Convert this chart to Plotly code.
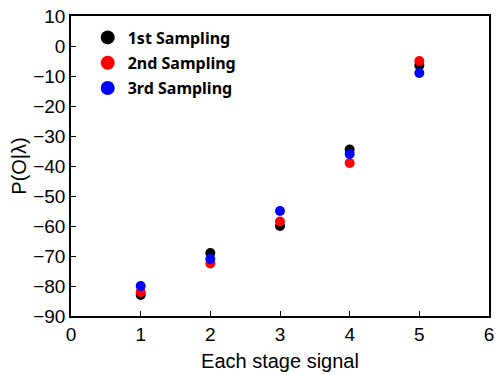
import plotly.graph_objects as go

stages = [1, 2, 3, 4, 5]
first = [-83, -69, -60, -34.5, -6.5]
second = [-82, -72.5, -58.5, -39, -5]
third = [-80, -71, -55, -36, -9]
names = ["1st Sampling", "2nd Sampling", "3rd Sampling"]
colors = ["#000000", "#ff0000", "#0000ff"]

fig = go.Figure()
for name, ys, c in zip(names, [first, second, third], colors):
    fig.add_trace(go.Scatter(x=stages, y=ys, mode="markers", name=name, showlegend=False,
                             marker=dict(color=c, size=10, line=dict(width=0))))
# legend-only entries (larger symbols as in the reference)
for i, (name, c) in enumerate(zip(names, colors)):
    fig.add_trace(go.Scatter(x=[None], y=[None], mode="markers", name=name,
                             legendgroup=f"g{i}",
                             marker=dict(color=c, size=14, line=dict(width=0))))

font_main = "Liberation Sans, Arial"
axis_common = dict(showline=True, linecolor="black", linewidth=1.5, mirror=True,
                   ticks="inside", ticklen=5, tickcolor="black", showgrid=False,
                   zeroline=False, tickfont=dict(family=font_main, size=19, color="black"))
fig.update_layout(
    width=500, height=375,
    margin=dict(l=71, r=6, t=15, b=58),
    plot_bgcolor="white", paper_bgcolor="white",
    xaxis=dict(range=[0, 6], dtick=1,
               title=dict(text="Each stage signal", font=dict(family=font_main, size=20, color="black"), standoff=10),
               **axis_common),
    yaxis=dict(range=[-90, 10], dtick=10,
               title=dict(text="P(O|λ)", font=dict(family=font_main, size=20, color="black"), standoff=1),
               **axis_common),
    legend=dict(x=0.04, y=0.985, xanchor="left", yanchor="top",
                font=dict(family="Noto Sans", size=16, color="black", weight="bold"),
                bgcolor="rgba(0,0,0,0)", itemwidth=30, tracegroupgap=1.5),
    showlegend=True,
)
fig.write_html("out.html")
